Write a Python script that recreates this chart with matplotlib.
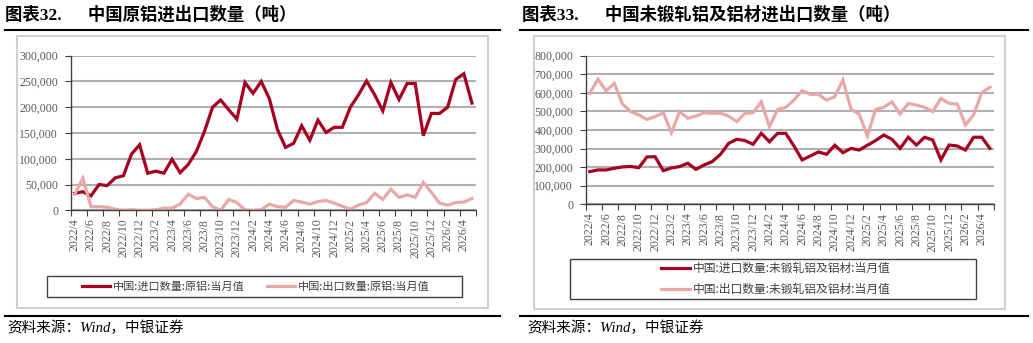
import matplotlib
matplotlib.use('Agg')
import matplotlib.pyplot as plt
from matplotlib.lines import Line2D
from matplotlib.patches import Rectangle
from matplotlib.ticker import FuncFormatter, MultipleLocator

# months 2022/4 .. 2026/5
months = []
y, m = 2022, 4
for _ in range(50):
    months.append(f'{y}/{m}')
    m += 1
    if m > 12:
        y, m = y + 1, 1

# 中国原铝 (吨)
al_import = [33000, 36000, 28000, 50000, 48000, 63000, 67000, 109000, 127000, 72000,
             76000, 72000, 99000, 73000, 89000, 114000, 153000, 200000, 214000, 195000,
             177000, 248000, 227000, 250000, 217000, 157000, 122000, 130000, 164000, 136000,
             175000, 151000, 161000, 161000, 200000, 224000, 251000, 224000, 193000, 248000,
             215000, 246000, 246000, 145000, 188000, 188000, 200000, 254000, 265000, 208000]
al_export = [31000, 62000, 7000, 7000, 6000, 2000, 0, 1000, 0, 0,
             1000, 4000, 4000, 12000, 31000, 23000, 25000, 7000, 0, 21000,
             15000, 1000, 0, 1000, 12000, 7000, 6000, 19000, 16000, 12000,
             17000, 19000, 14000, 8000, 2000, 10000, 15000, 33000, 21000, 41000,
             25000, 30000, 25000, 54000, 35000, 14000, 10000, 15000, 16000, 23000]

# 中国未锻轧铝及铝材 (吨)
ua_import = [176000, 185000, 185000, 194000, 201000, 204000, 197000, 255000, 256000, 181000,
             196000, 203000, 221000, 188000, 212000, 230000, 269000, 328000, 350000, 343000,
             323000, 382000, 337000, 382000, 382000, 314000, 239000, 260000, 282000, 269000,
             318000, 278000, 301000, 292000, 318000, 343000, 373000, 350000, 301000, 361000,
             319000, 361000, 346000, 239000, 319000, 314000, 292000, 361000, 361000, 301000]
ua_export = [597000, 674000, 610000, 651000, 540000, 499000, 481000, 457000, 472000, 493000,
             386000, 499000, 463000, 475000, 493000, 490000, 490000, 475000, 445000, 490000,
             493000, 552000, 418000, 511000, 522000, 561000, 612000, 592000, 592000, 561000,
             579000, 669000, 511000, 486000, 368000, 511000, 522000, 552000, 486000, 543000,
             534000, 522000, 499000, 570000, 543000, 540000, 427000, 481000, 601000, 630000]

left_labels = ['中国:进口数量:原铝:当月值', '中国:出口数量:原铝:当月值']
right_labels = ['中国:进口数量:未锻轧铝及铝材:当月值', '中国:出口数量:未锻轧铝及铝材:当月值']

DARK = '#a50021'
LIGHT = '#e8a8a8'
GRID = '#b0b0b0'
TXT = '#595959'
W, H = 1033, 343
MIXED = ['Liberation Serif', 'Noto Sans CJK SC']

plt.rcParams['font.family'] = MIXED

fig = plt.figure(figsize=(W / 100, H / 100), dpi=100)


def fx(px):
    return px / W


def fy(py):
    return 1 - py / H


def rect(x0, y0, x1, y1, **kw):
    fig.add_artist(Rectangle((fx(x0), fy(y1)), fx(x1) - fx(x0), fy(y0) - fy(y1),
                             transform=fig.transFigure, fill=False, **kw))


def hline(x0, x1, yy):
    fig.add_artist(Line2D([fx(x0), fx(x1)], [fy(yy), fy(yy)], transform=fig.transFigure,
                          color='black', lw=1.5))


def panel(x0, x1, top, bottom, s1, s2, ymax, step):
    ax = fig.add_axes([fx(x0), fy(bottom), fx(x1) - fx(x0), fy(top) - fy(bottom)])
    xs = range(len(months))
    l1, = ax.plot(xs, s1, color=DARK, lw=2.3, solid_joinstyle='miter')
    l2, = ax.plot(xs, s2, color=LIGHT, lw=2.3, solid_joinstyle='miter')
    ax.set_xlim(-0.5, len(months) - 0.5)
    ax.set_ylim(0, ymax)
    ax.yaxis.set_major_locator(MultipleLocator(step))
    ax.yaxis.set_major_formatter(FuncFormatter(lambda v, p: f'{int(v):,}'))
    ax.set_xticks([i - 0.5 for i in range(0, len(months) + 1, 2)])
    ax.set_xticklabels([])
    ax.set_xticks(list(range(0, len(months), 2)), minor=True)
    ax.set_xticklabels(months[::2], minor=True, rotation=90, fontsize=8.5, color=TXT)
    ax.tick_params(axis='x', which='minor', length=0, pad=6)
    ax.tick_params(axis='x', which='major', length=4, color='#404040')
    ax.tick_params(axis='y', length=4, color='#404040', labelsize=8.5, labelcolor=TXT, pad=5)
    ax.grid(axis='y', color=GRID, lw=1.5)
    ax.set_axisbelow(True)
    for s in ['top', 'right']:
        ax.spines[s].set_visible(False)
    for s in ['left', 'bottom']:
        ax.spines[s].set_color('#404040')
        ax.spines[s].set_linewidth(1)
    return l1, l2


# ---- left panel ----
fig.text(fx(5), fy(15), '图表32.      中国原铝进出口数量（吨）', fontsize=12.5, fontweight='bold',
         family=MIXED, va='center')
hline(5, 500, 30)
rect(17, 36, 488, 308, color='#d0d0d0', lw=1.5)
h1, h2 = panel(70.7, 476, 55.7, 210.3, al_import, al_export, 300000, 50000)
rect(47, 276, 462, 297, color='#404040', lw=1)
fig.legend([h1, h2], left_labels, ncol=2, loc='center', bbox_to_anchor=(fx(256), fy(286.5)),
           frameon=False, prop={'family': 'Noto Sans CJK SC', 'size': 8}, labelcolor='#404040',
           handlelength=2.5, handletextpad=0.3, columnspacing=2.0, borderpad=0)
hline(5, 500, 316)
fig.text(fx(7), fy(328), '资料来源：Wind，中银证券', fontsize=10.5, style='italic',
         family=MIXED, va='center')

# ---- right panel ----
fig.text(fx(522), fy(15), '图表33.      中国未锻轧铝及铝材进出口数量（吨）', fontsize=12.5,
         fontweight='bold', family=MIXED, va='center')
hline(520, 1028, 30)
rect(534, 36, 1005, 309, color='#d0d0d0', lw=1.5)
h1, h2 = panel(585.7, 994, 55.7, 204.3, ua_import, ua_export, 800000, 100000)
rect(570, 259, 976, 299, color='#404040', lw=1)
fig.legend([h1, h2], right_labels, ncol=1, loc='center', bbox_to_anchor=(fx(776), fy(279)),
           frameon=False, prop={'family': 'Noto Sans CJK SC', 'size': 8.5}, labelcolor='#404040',
           handlelength=2.4, handletextpad=0.3, labelspacing=0.7, borderpad=0)
hline(520, 1028, 316)
fig.text(fx(527), fy(328), '资料来源：Wind，中银证券', fontsize=10.5, style='italic',
         family=MIXED, va='center')

fig.savefig('out.png', dpi=100)
